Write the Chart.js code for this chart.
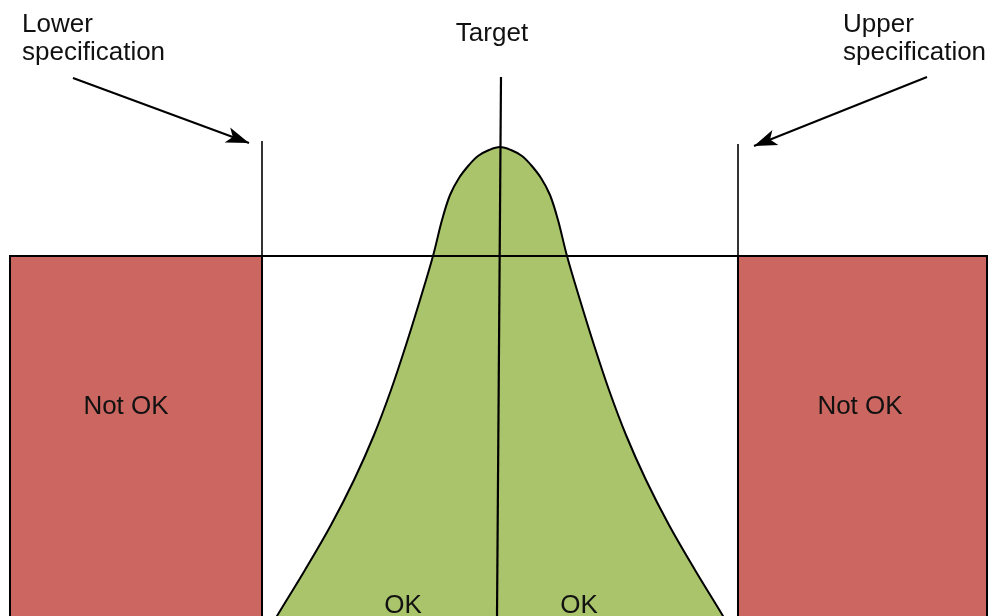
<!DOCTYPE html>
<html>
<head>
<meta charset="utf-8">
<script src="https://cdn.jsdelivr.net/npm/chart.js@4"></script>
<style>
    body { margin: 0; background: #fff; }
    canvas { display: block; }
</style>
</head>
<body>
<canvas id="chart" width="994" height="616"></canvas>
<script>
// measurement axis (x) and density axis (y), in the units of the drawing
const curveX = [260, 277, 305, 331, 354, 374, 391, 406, 420, 433, 442, 450, 459, 469, 478, 489, 500,
                511, 522, 531, 541, 550, 558, 567, 580, 594, 609, 626, 646, 669, 695, 723, 740];
const curveY = [-29, 0, 46, 91, 136, 181, 226, 271, 316, 360, 396, 421, 438, 451, 460, 466, 469,
                466, 460, 451, 438, 421, 396, 360, 316, 271, 226, 181, 136, 91, 46, 0, -29];

const lowerSpec = 262;
const upperSpec = 738;
const targetTop = [501, 539];
const targetBottom = [497, 0];
const specLevel = 360;
const specTopLower = 475;
const specTopUpper = 472;

const notOkLeft = [10, lowerSpec];
const notOkRight = [upperSpec, 987];

const lowerArrow = [[73, 538], [249, 473]];
const upperArrow = [[927, 539], [754, 470]];

const labelTexts = ["Lower", "specification", "Target", "Upper", "specification",
                    "Not OK", "Not OK", "OK", "OK"];

const toPoints = (xs, ys) => xs.map((x, i) => ({x: x, y: ys[i]}));
const pair = (a, b) => [{x: a[0], y: a[1]}, {x: b[0], y: b[1]}];

// box with sides running below the visible area, filled down to the axis start
function box(range) {
    return [
        {x: range[0], y: -20},
        {x: range[0], y: specLevel},
        {x: range[1], y: specLevel},
        {x: range[1], y: -20}
    ];
}

const labelPlacement = [
    {x: 22, y: 584, align: "left"},
    {x: 22, y: 556, align: "left"},
    {x: 492, y: 575, align: "center"},
    {x: 843, y: 584, align: "left"},
    {x: 843, y: 556, align: "left"},
    {x: 126, y: 202, align: "center"},
    {x: 860, y: 202, align: "center"},
    {x: 403, y: 3, align: "center"},
    {x: 579, y: 3, align: "center"}
];

const arrowHeads = {
    id: "arrowHeads",
    afterDatasetsDraw(chart) {
        const ctx = chart.ctx;
        chart.data.datasets.forEach((ds, i) => {
            if (!ds.arrow) return;
            const pts = chart.getDatasetMeta(i).data;
            const a = pts[pts.length - 2], b = pts[pts.length - 1];
            const ang = Math.atan2(b.y - a.y, b.x - a.x);
            const len = 23, half = 8;
            const c = Math.cos(ang), s = Math.sin(ang);
            ctx.save();
            ctx.fillStyle = "#000";
            ctx.beginPath();
            ctx.moveTo(b.x, b.y);
            ctx.lineTo(b.x - len * c + half * s, b.y - len * s - half * c);
            ctx.lineTo(b.x - len * 0.75 * c, b.y - len * 0.75 * s);
            ctx.lineTo(b.x - len * c - half * s, b.y - len * s + half * c);
            ctx.closePath();
            ctx.fill();
            ctx.restore();
        });
    }
};

const textLabels = {
    id: "textLabels",
    afterDraw(chart) {
        const ctx = chart.ctx;
        const xs = chart.scales.x, ys = chart.scales.y;
        ctx.save();
        ctx.fillStyle = "#111";
        ctx.font = "26px 'Liberation Sans', Arial, sans-serif";
        ctx.textBaseline = "alphabetic";
        labelTexts.forEach((t, i) => {
            const p = labelPlacement[i];
            ctx.textAlign = p.align;
            ctx.fillText(t, xs.getPixelForValue(p.x), ys.getPixelForValue(p.y));
        });
        ctx.restore();
    }
};

const line = (data, width) => ({
    data: data,
    showLine: true,
    borderColor: "#000",
    borderWidth: width,
    pointRadius: 0,
    tension: 0,
    fill: false
});

// first dataset is drawn on top
const datasets = [
    line(pair(targetTop, targetBottom), 2.2),
    line([{x: notOkLeft[0], y: specLevel}, {x: notOkRight[1], y: specLevel}], 2),
    line([{x: lowerSpec, y: specLevel}, {x: lowerSpec, y: specTopLower}], 1.6),
    line([{x: upperSpec, y: specLevel}, {x: upperSpec, y: specTopUpper}], 1.6),
    Object.assign(line(pair(lowerArrow[0], lowerArrow[1]), 2), {arrow: true}),
    Object.assign(line(pair(upperArrow[0], upperArrow[1]), 2), {arrow: true}),
    {
        data: toPoints(curveX, curveY),
        showLine: true,
        tension: 0.35,
        borderColor: "#000",
        borderWidth: 2,
        backgroundColor: "#A9C46B",
        pointRadius: 0,
        fill: "start"
    },
    Object.assign(line(box(notOkLeft), 2), {fill: "start", backgroundColor: "#CC6660"}),
    Object.assign(line(box(notOkRight), 2), {fill: "start", backgroundColor: "#CC6660"})
];

new Chart(document.getElementById("chart").getContext("2d"), {
    type: "scatter",
    data: {datasets: datasets},
    options: {
        responsive: false,
        animation: false,
        layout: {padding: 0},
        scales: {
            x: {type: "linear", min: 0, max: 994, display: false},
            y: {type: "linear", min: 0, max: 616, display: false}
        },
        plugins: {
            legend: {display: false},
            tooltip: {enabled: false}
        }
    },
    plugins: [arrowHeads, textLabels]
});
</script>
</body>
</html>
